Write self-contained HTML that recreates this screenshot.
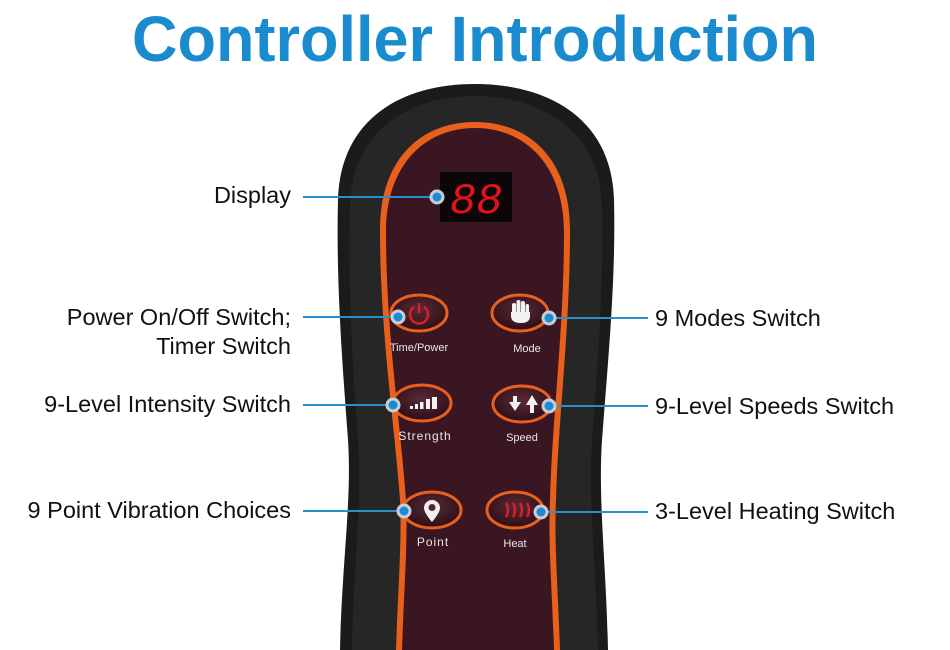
<!DOCTYPE html>
<html><head><meta charset="utf-8"><style>
html,body{margin:0;padding:0;background:#fff;}
svg{display:block;}
</style></head><body>
<svg width="950" height="650" viewBox="0 0 950 650" xmlns="http://www.w3.org/2000/svg" font-family="Liberation Sans, sans-serif">
<defs>
<radialGradient id="btn" cx="50%" cy="40%" r="60%">
<stop offset="0" stop-color="#5a2a36"/><stop offset="1" stop-color="#2c0e17"/>
</radialGradient>
</defs>
<rect width="950" height="650" fill="#fff"/>
<text x="475" y="61" text-anchor="middle" font-size="64" font-weight="bold" fill="#1a8bcf" textLength="686" lengthAdjust="spacingAndGlyphs">Controller Introduction</text>

<!-- body -->
<path d="M340,650 C342,560 352,500 348,440 C342,360 336,280 338,200 C340,120 400,84 475,84 C550,84 612,120 614,200 C616,280 608,360 602,440 C598,500 606,560 608,650 Z" fill="#1b1b1b"/>
<path d="M352,650 C354,560 362,500 358,440 C352,360 348,280 350,205 C352,130 410,96 475,96 C540,96 600,130 602,205 C604,280 598,360 592,440 C588,500 596,560 598,650 Z" fill="#262626"/>
<!-- orange panel -->
<path d="M396,650 C398,590 402,540 400,500 C394,420 380,330 380,230 C380,160 420,122 475,122 C530,122 570,160 570,230 C570,330 558,420 556,500 C554,540 558,590 560,650 Z" fill="#e8601c"/>
<path d="M402,650 C404,590 408,540 406,500 C400,420 386,330 386,232 C386,166 424,128 475,128 C526,128 564,166 564,232 C564,330 552,420 550,500 C548,540 552,590 554,650 Z" fill="#3a1622"/>

<!-- display -->
<rect x="440" y="172" width="72" height="50" fill="#0c0608"/>
<text x="476" y="213" text-anchor="middle" font-size="44" font-style="italic" fill="#e0141a" font-family="Liberation Mono, monospace">88</text>

<!-- buttons -->
<g stroke="#e8601c" stroke-width="3" fill="url(#btn)">
<ellipse cx="419" cy="313" rx="28" ry="18"/>
<ellipse cx="520" cy="313" rx="28" ry="18"/>
<ellipse cx="422" cy="403" rx="29" ry="18"/>
<ellipse cx="522" cy="404" rx="29" ry="18"/>
<ellipse cx="432" cy="510" rx="29" ry="18"/>
<ellipse cx="515" cy="510" rx="28" ry="18"/>
</g>
<!-- icons -->
<g fill="none" stroke="#d8202a" stroke-width="2.5">
<path d="M414,307 A9,9 0 1 0 424,307"/><line x1="419" y1="303" x2="419" y2="313"/>
<path d="M506,503 q4,7 0,14 M513,503 q4,7 0,14 M520,503 q4,7 0,14 M527,503 q4,7 0,14" />
</g>
<g fill="#f2f2f2">
<rect x="512" y="303" width="4" height="12" rx="2"/><rect x="516.5" y="300" width="4" height="14" rx="2"/><rect x="521" y="301" width="4" height="13" rx="2"/><rect x="525.5" y="304" width="3.5" height="10" rx="1.7"/>
<path d="M511,312 h19 v4 q0,7 -9,7 q-10,0 -10,-7 z"/>
<rect x="410" y="406" width="3" height="3"/><rect x="415" y="404" width="3" height="5"/><rect x="420" y="402" width="3.5" height="7"/><rect x="426" y="399" width="4" height="10"/><rect x="432" y="397" width="5" height="12"/>
<path d="M509,402 h4 v-6 h4 v6 h4 l-6,9 z"/>
<path d="M526,405 h4 v8 h4 v-8 h4 l-6,-10 z"/>
<path d="M432,500 a8,8 0 0 1 8,8 c0,5 -8,14 -8,14 c0,0 -8,-9 -8,-14 a8,8 0 0 1 8,-8 z M432,504 a3.5,3.5 0 1 0 0.01,0 z" fill-rule="evenodd"/>
</g>
<g fill="#e8e8e8" font-size="11" text-anchor="middle">
<text x="419" y="351">Time/Power</text>
<text x="527" y="352">Mode</text>
<text x="425" y="440" font-size="12" letter-spacing="1">Strength</text>
<text x="522" y="441">Speed</text>
<text x="433" y="546" font-size="12" letter-spacing="1">Point</text>
<text x="515" y="547">Heat</text>
</g>

<!-- connectors -->
<g stroke="#2a8fc8" stroke-width="2">
<line x1="303" y1="197" x2="437" y2="197"/>
<line x1="303" y1="317" x2="398" y2="317"/>
<line x1="303" y1="405" x2="393" y2="405"/>
<line x1="303" y1="511" x2="404" y2="511"/>
<line x1="549" y1="318" x2="648" y2="318"/>
<line x1="549" y1="406" x2="648" y2="406"/>
<line x1="541" y1="512" x2="648" y2="512"/>
</g>
<g fill="#1a8bd0" stroke="#c8ccd4" stroke-width="3">
<circle cx="437" cy="197" r="6"/>
<circle cx="398" cy="317" r="6"/>
<circle cx="393" cy="405" r="6"/>
<circle cx="404" cy="511" r="6"/>
<circle cx="549" cy="318" r="6"/>
<circle cx="549" cy="406" r="6"/>
<circle cx="541" cy="512" r="6"/>
</g>

<g font-size="23.5" fill="#111">
<g text-anchor="end">
<text x="291" y="203">Display</text>
<text x="291" y="325">Power On/Off Switch;</text>
<text x="291" y="354">Timer Switch</text>
<text x="291" y="412">9-Level Intensity Switch</text>
<text x="291" y="518">9 Point Vibration Choices</text>
</g>
<text x="655" y="326">9 Modes Switch</text>
<text x="655" y="414">9-Level Speeds Switch</text>
<text x="655" y="519">3-Level Heating Switch</text>
</g>
</svg>
</body></html>
